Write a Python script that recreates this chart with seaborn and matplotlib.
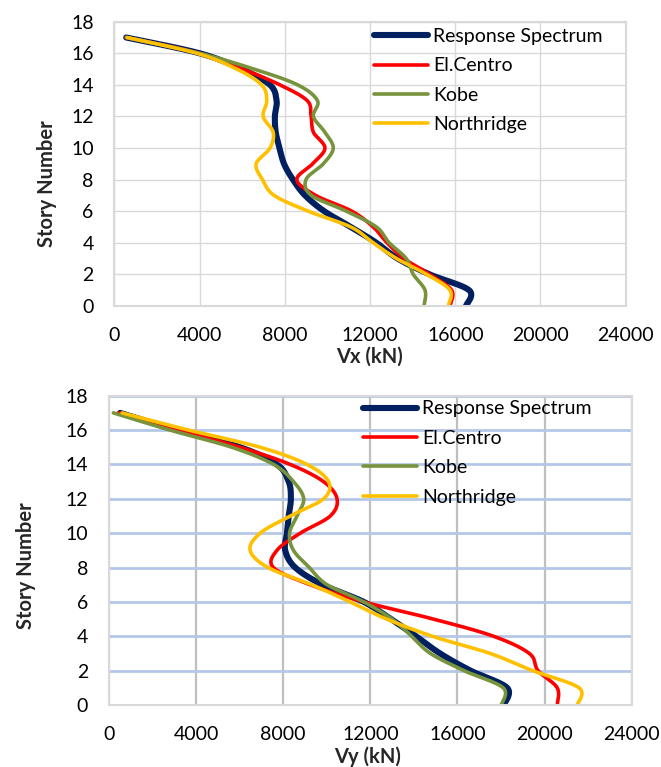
import numpy as np
import pandas as pd
import matplotlib
matplotlib.use("Agg")
import matplotlib.pyplot as plt
import seaborn as sns

# ---- data -------------------------------------------------------------
stories = list(range(18))
series_names = ["Response Spectrum", "El.Centro", "Kobe", "Northridge"]
series_colors = ["#002060", "#ff0000", "#77933c", "#ffc000"]
series_widths = [4.4, 2.6, 2.6, 2.6]

vx_response = [16500, 16650, 14800, 13300, 12300, 11100, 9850, 8950, 8380,
               7960, 7750, 7570, 7530, 7610, 7300, 5970, 4000, 550]
vx_elcentro = [15750, 15830, 14800, 13600, 12800, 12150, 11150, 9450, 8560,
               9300, 9880, 9340, 9230, 9050, 7770, 6030, 4000, 550]
vx_kobe = [14530, 14580, 14030, 13700, 12900, 12300, 10900, 9250, 8990,
           9800, 10270, 9880, 9340, 9530, 8600, 6550, 4000, 550]
vx_northridge = [15670, 15750, 14660, 13250, 12150, 11100, 9100, 7500, 6950,
                 6650, 7300, 7450, 6980, 7150, 6910, 5740, 3860, 600]

vy_response = [18130, 18280, 16600, 15200, 14100, 12950, 11700, 9800, 8550,
               8090, 8170, 8250, 8350, 8250, 7710, 6020, 3110, 506]
vy_elcentro = [20580, 20580, 19700, 19300, 17660, 14900, 11700, 9240, 7550,
               7710, 8780, 10160, 10470, 9850, 8320, 6020, 3180, 430]
vy_kobe = [18010, 18100, 16300, 14760, 13900, 13000, 11700, 10010, 9200,
           8470, 8290, 8630, 8940, 8470, 7560, 5640, 2800, 200]
vy_northridge = [21500, 21580, 19450, 17500, 14850, 12750, 11080, 9300, 7300,
                 6480, 6940, 8320, 9850, 10080, 9090, 6940, 3650, 600]

x_ticks = [0, 4000, 8000, 12000, 16000, 20000, 24000]
y_ticks = [0, 2, 4, 6, 8, 10, 12, 14, 16, 18]


def smooth(xs, ys, n=24):
    """Smoothed line through every point (cubic Bezier, Catmull-Rom tangents)."""
    p = np.column_stack([xs, ys]).astype(float)
    p = np.vstack([p[0], p, p[-1]])
    t = np.linspace(0, 1, n, endpoint=False)[:, None]
    parts = []
    for i in range(1, len(p) - 2):
        p0, p1, p2, p3 = p[i - 1], p[i], p[i + 1], p[i + 2]
        c1 = p1 + (p2 - p0) / 6
        c2 = p2 - (p3 - p1) / 6
        parts.append((1 - t) ** 3 * p1 + 3 * (1 - t) ** 2 * t * c1
                     + 3 * (1 - t) * t ** 2 * c2 + t ** 3 * p2)
    parts.append(p[-2][None, :])
    out = np.vstack(parts)
    return out[:, 0], out[:, 1]


def build_frame(values):
    rows = []
    for name, vals in zip(series_names, values):
        sx, sy = smooth(vals, stories)
        rows.append(pd.DataFrame({"force": sx, "story": sy, "series": name,
                                  "order": np.arange(len(sx))}))
    return pd.concat(rows, ignore_index=True)


sns.set_theme(style="white")
plt.rcParams["font.family"] = ["Lato", "DejaVu Sans"]
plt.rcParams["text.color"] = "#000000"

fig = plt.figure(figsize=(6.61, 7.67), dpi=100)
ax_top = fig.add_axes([0.1732, 0.6010, 0.7734, 0.3707])
ax_bot = fig.add_axes([0.1649, 0.0808, 0.7908, 0.4033])

panels = [
    (ax_top, build_frame([vx_response, vx_elcentro, vx_kobe, vx_northridge]),
     "Vx (kN)", (0.5076, 0.978), (-0.112, 0.43), (0.498, -0.142)),
    (ax_bot, build_frame([vy_response, vy_elcentro, vy_kobe, vy_northridge]),
     "Vy (kN)", (0.486, 0.985), (-0.140, 0.45), (0.495, -0.134)),
]

for idx, (ax, df, xlabel, leg_anchor, ylab_pos, xlab_pos) in enumerate(panels):
    for name, color, lw in zip(series_names, series_colors, series_widths):
        sub = df[df["series"] == name]
        sns.lineplot(data=sub, x="force", y="story", sort=False, estimator=None,
                     color=color, linewidth=lw, label=name, ax=ax,
                     solid_capstyle="round", solid_joinstyle="round")

    ax.set_xlim(0, 24000)
    ax.set_ylim(0, 18)
    ax.set_xticks(x_ticks)
    ax.set_yticks(y_ticks)
    ax.set_xticklabels([str(v) for v in x_ticks])
    ax.set_yticklabels([str(v) for v in y_ticks])
    ax.tick_params(axis="both", length=0, labelsize=14, colors="#000000")
    ax.tick_params(axis="x", pad=15)
    ax.tick_params(axis="y", pad=15)

    if idx == 0:
        ax.grid(True, color="#d9d9d9", linewidth=1.0)
    else:
        ax.xaxis.grid(True, color="#bfbfbf", linewidth=1.6)
        ax.yaxis.grid(True, color="#b4c7e7", linewidth=2.0)
    for s in ax.spines.values():
        s.set_color("#d9d9d9")
        s.set_linewidth(1.5)
    ax.set_axisbelow(True)

    ax.set_xlabel(xlabel, fontsize=14.5, fontweight="bold")
    ax.set_ylabel("Story Number", fontsize=14.5, fontweight="bold")
    ax.xaxis.set_label_coords(*xlab_pos)
    ax.yaxis.set_label_coords(*ylab_pos)

    leg = ax.legend(loc="upper left", bbox_to_anchor=leg_anchor, frameon=False,
                    fontsize=14, handlelength=2.8, handletextpad=0.25,
                    labelspacing=0.64, borderpad=0, borderaxespad=0)
    for h, lw in zip(leg.get_lines(), series_widths):
        h.set_linewidth(lw)
        h.set_solid_capstyle("round")

fig.savefig("out.png", dpi=100, facecolor="white")
